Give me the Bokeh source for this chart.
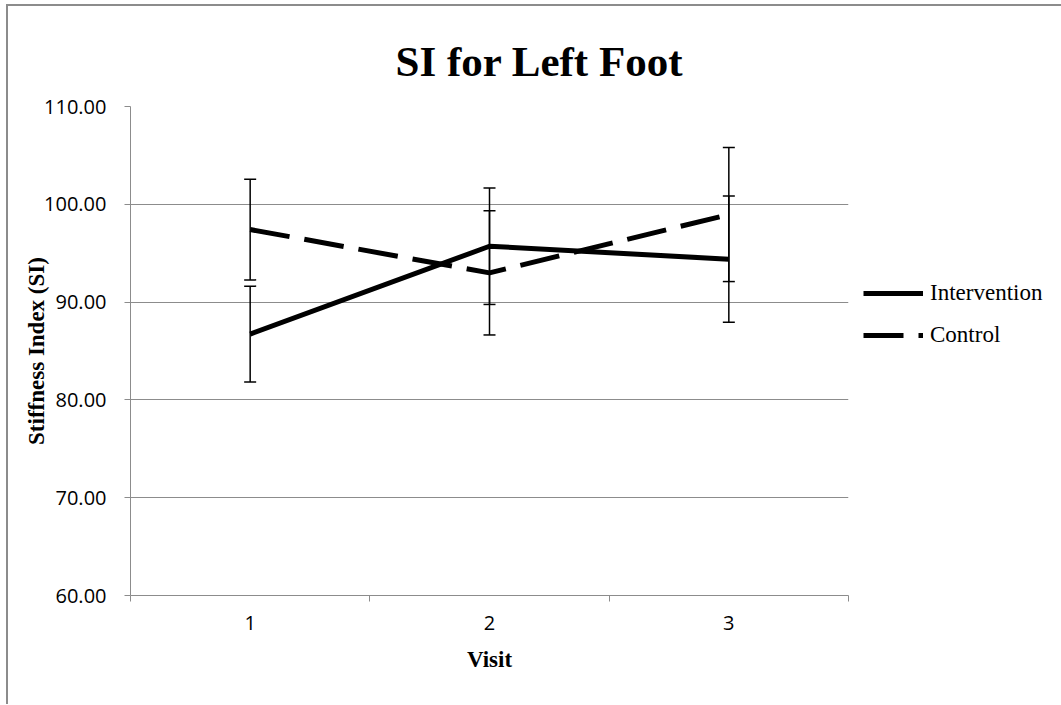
from bokeh.plotting import figure
from bokeh.models import (ColumnDataSource, Whisker, TeeHead, FixedTicker, NumeralTickFormatter,
                          Legend, LegendItem, Range1d)
from bokeh.embed import file_html
from bokeh.resources import INLINE

# Mean stiffness index per visit, with error bar half-widths
visits = [1, 2, 3]
intervention_mean = [86.73, 95.71, 94.39]
intervention_err = [4.90, 5.95, 6.45]
control_mean = [97.42, 92.99, 98.95]
control_err = [5.15, 6.35, 6.85]
y_ticks = [60, 70, 80, 90, 100, 110]

GRAY = "#8c8c8c"
SERIF = "Liberation Serif"
SANS = "Open Sans"

p = figure(frame_width=718, frame_height=489, output_backend="svg", toolbar_location=None,
           x_range=Range1d(0.5, 3.5), y_range=Range1d(60, 110),
           min_border_left=130, min_border_right=200, min_border_top=106, min_border_bottom=109)
p.outline_line_color = None
p.background_fill_color = "white"
p.border_fill_alpha = 0
# chart box edge: only its left and top sides fall inside the page
p.styles = {"box-shadow": f"inset 6px 4px 0 0 white, inset 8px 6px 0 0 {GRAY}"}

# title
p.title.text = "SI for Left Foot"
p.title.align = "left"
p.title.offset = 265
p.title.standoff = 43
p.title.text_font = SERIF
p.title.text_font_style = "bold"
p.title.text_font_size = "43px"
p.title.text_color = "black"

# axes
p.xaxis.ticker = FixedTicker(ticks=visits, minor_ticks=[0.5, 1.5, 2.5, 3.5])
p.xaxis.major_tick_line_color = None
p.xaxis.minor_tick_line_color = GRAY
p.xaxis.minor_tick_in = 0
p.xaxis.minor_tick_out = 6
p.xaxis.axis_line_color = GRAY
p.xaxis.major_label_text_font = SANS
p.xaxis.major_label_text_font_size = "20px"
p.xaxis.major_label_text_color = "black"
p.xaxis.major_label_standoff = 14
p.xaxis.axis_label = "Visit"
p.xaxis.axis_label_text_font = SERIF
p.xaxis.axis_label_text_font_style = "bold"
p.xaxis.axis_label_text_font_size = "23px"
p.xaxis.axis_label_text_color = "black"
p.xaxis.axis_label_standoff = 14

p.yaxis.ticker = FixedTicker(ticks=y_ticks, minor_ticks=[])
p.yaxis.formatter = NumeralTickFormatter(format="0.00")
p.yaxis.axis_line_color = GRAY
p.yaxis.major_tick_line_color = GRAY
p.yaxis.major_tick_in = 0
p.yaxis.major_tick_out = 6
p.yaxis.major_label_text_font = SANS
p.yaxis.major_label_text_font_size = "20px"
p.yaxis.major_label_text_color = "black"
p.yaxis.major_label_standoff = 18
p.yaxis.axis_label = "Stiffness Index (SI)"
p.yaxis.axis_label_text_font = SERIF
p.yaxis.axis_label_text_font_style = "bold"
p.yaxis.axis_label_text_font_size = "23px"
p.yaxis.axis_label_text_color = "black"
p.yaxis.axis_label_standoff = -8

p.xgrid.grid_line_color = None
p.ygrid.grid_line_color = GRAY
p.ygrid.grid_line_width = 1

src_i = ColumnDataSource(dict(x=visits, y=intervention_mean,
                              lo=[m - e for m, e in zip(intervention_mean, intervention_err)],
                              hi=[m + e for m, e in zip(intervention_mean, intervention_err)]))
src_c = ColumnDataSource(dict(x=visits, y=control_mean,
                              lo=[m - e for m, e in zip(control_mean, control_err)],
                              hi=[m + e for m, e in zip(control_mean, control_err)]))

r_i = p.line("x", "y", source=src_i, line_color="black", line_width=5)
r_c = p.line("x", "y", source=src_c, line_color="black", line_width=5, line_dash="40 15")

for src in (src_i, src_c):
    w = Whisker(source=src, base="x", lower="lo", upper="hi", dimension="height",
                line_color="black", line_width=1.5,
                upper_head=TeeHead(size=12, line_color="black", line_width=1.5),
                lower_head=TeeHead(size=12, line_color="black", line_width=1.5))
    p.add_layout(w)

legend = Legend(items=[LegendItem(label="Intervention", renderers=[r_i]),
                       LegendItem(label="Control", renderers=[r_c])],
                location=(15, 245), orientation="vertical",
                glyph_width=60, glyph_height=30, spacing=12, padding=0, margin=0,
                label_standoff=7, label_text_font=SERIF, label_text_font_size="23px",
                label_text_color="black", border_line_color=None, background_fill_alpha=0)
p.add_layout(legend, "right")

open("out.html", "w").write(file_html(p, INLINE))
